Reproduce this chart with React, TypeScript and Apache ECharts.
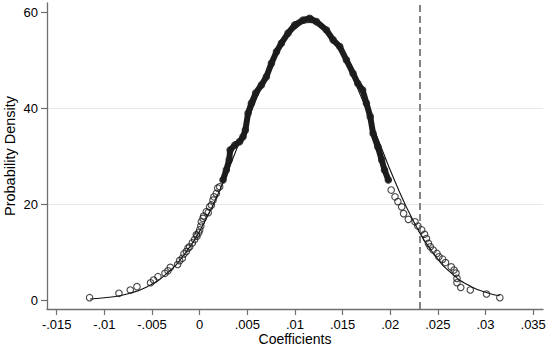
import React, { useEffect, useRef } from "react";
import * as echarts from "echarts";

// Kernel-density style points (coefficient, density)
const densityPoints: [number, number][] = [
  [-0.01155, 0.48], [-0.00847, 1.39], [-0.00728, 2.08], [-0.00658, 2.78],
  [-0.00515, 3.6], [-0.00483, 4.17], [-0.00438, 4.86], [-0.00364, 5.56],
  [-0.00333, 6.1], [-0.00308, 6.8], [-0.00231, 7.4], [-0.0021, 8.2],
  [-0.00182, 8.7], [-0.00165, 9.6], [-0.0014, 10.1], [-0.00122, 10.8],
  [-0.00105, 11.1], [-0.00077, 11.9], [-0.00053, 12.6], [-0.00035, 13.6],
  [-0.00028, 13.3], [-0.0001, 14.0], [0.0, 14.6], [0.00012, 15.4],
  [0.00018, 16.3], [0.00035, 17.0], [0.00042, 17.5], [0.0007, 18.4],
  [0.0009, 18.2], [0.00105, 19.4], [0.00123, 19.8], [0.0014, 20.8],
  [0.0015, 21.5], [0.00175, 22.2], [0.0019, 23.3], [0.0021, 23.6],
  [0.00245, 25.0], [0.0028, 27.1], [0.0031, 29.2], [0.0032, 31.25],
  [0.0037, 32.3], [0.0042, 33.0], [0.00455, 34.0], [0.0048, 35.4],
  [0.00508, 38.9], [0.00543, 41.0], [0.00588, 43.1], [0.00648, 44.8],
  [0.007, 46.5], [0.00753, 49.3], [0.00806, 51.7], [0.00858, 53.5],
  [0.00928, 55.6], [0.00998, 57.3], [0.01085, 58.3], [0.01155, 58.7],
  [0.01225, 58.0], [0.0133, 56.25], [0.014, 54.2], [0.0147, 52.8],
  [0.0154, 50.0], [0.0161, 47.2], [0.0166, 45.1], [0.0171, 43.75],
  [0.0175, 41.0], [0.0179, 38.2], [0.0182, 34.7], [0.0187, 31.9],
  [0.0191, 29.2], [0.0194, 27.1], [0.0198, 25.0], [0.0201, 22.9],
  [0.0205, 21.5], [0.0208, 20.5], [0.0212, 19.4], [0.0214, 18.0],
  [0.0219, 16.8], [0.0226, 16.3], [0.0229, 15.4], [0.0233, 14.6],
  [0.0236, 13.7], [0.0238, 12.8], [0.024, 11.8], [0.0242, 11.1],
  [0.0245, 10.4], [0.0249, 9.7], [0.0251, 9.0], [0.0255, 8.5],
  [0.0258, 7.8], [0.0264, 6.9], [0.0267, 6.25], [0.0269, 5.6],
  [0.027, 4.5], [0.027, 3.6], [0.0274, 2.6], [0.0284, 2.08],
  [0.0301, 1.25], [0.0315, 0.48],
];

// Fitted normal density curve
const normalCurve: [number, number][] = [
  [-0.0115, 0.22], [-0.0095, 0.56], [-0.0075, 1.31], [-0.0055, 2.78],
  [-0.0035, 5.44], [-0.0015, 9.8], [0.0005, 16.2], [0.0025, 24.7],
  [0.0045, 34.6], [0.0065, 44.4], [0.0085, 52.6], [0.0105, 57.2],
  [0.0115, 57.8], [0.0125, 57.2], [0.0145, 52.6], [0.0165, 44.4],
  [0.0185, 34.6], [0.0205, 24.7], [0.0225, 16.2], [0.0245, 9.8],
  [0.0265, 5.44], [0.0285, 2.78], [0.0305, 1.31], [0.0315, 0.87],
];

const referenceValue = 0.0231;

const xTicks = [-0.015, -0.01, -0.005, 0, 0.005, 0.01, 0.015, 0.02, 0.025, 0.03, 0.035];
const yTicks = [0, 20, 40, 60];

const xTitle = "Coefficients";
const yTitle = "Probability Density";

// Dense portion of the point cloud (overlapping markers form a solid band)
const densePoints = densityPoints.filter((p) => p[1] >= 24.5);

const FONT = "'Liberation Sans', Arial, Helvetica, sans-serif";

function fmtX(v: number): string {
  if (Math.abs(v) < 1e-9) return "0";
  const s = String(Number(v.toFixed(4)));
  return s.replace(/^(-?)0\./, "$1.");
}

export default function App() {
  const ref = useRef<HTMLDivElement>(null);
  useEffect(() => {
    if (!ref.current) return;
    const chart = echarts.init(ref.current, null, { renderer: "svg" });
    const axisColor = "#6f6f6f";
    chart.setOption({
      animation: false,
      backgroundColor: "#ffffff",
      grid: { left: 47, right: 7, top: 3, bottom: 40, containLabel: false, outerBoundsMode: "none" },
      xAxis: {
        type: "value",
        min: -0.01602,
        max: 0.03603,
        minInterval: 0.005,
        maxInterval: 0.005,
        name: xTitle,
        nameLocation: "middle",
        nameGap: 23,
        nameMoveOverlap: false,
        nameTextStyle: { fontFamily: FONT, fontSize: 14, lineHeight: 14, color: "#000" },
        axisLine: { show: true, onZero: false, lineStyle: { color: axisColor, width: 1.3 } },
        axisTick: {
          show: true,
          length: 6,
          customValues: xTicks,
          lineStyle: { color: axisColor, width: 1.2 },
        },
        axisLabel: {
          customValues: xTicks,
          formatter: fmtX,
          margin: 9,
          fontFamily: FONT,
          fontSize: 13,
          color: "#000",
        },
        splitLine: { show: false },
      },
      yAxis: {
        type: "value",
        min: -1.875,
        max: 61.875,
        minInterval: 20,
        maxInterval: 20,
        name: yTitle,
        nameLocation: "middle",
        nameGap: 29,
        nameMoveOverlap: false,
        nameTextStyle: { fontFamily: FONT, fontSize: 14.5, lineHeight: 16, color: "#000" },
        axisLine: { show: true, onZero: false, lineStyle: { color: axisColor, width: 1.3 } },
        axisTick: {
          show: true,
          length: 6,
          customValues: yTicks,
          lineStyle: { color: axisColor, width: 1.2 },
        },
        axisLabel: {
          customValues: yTicks,
          margin: 9,
          fontFamily: FONT,
          fontSize: 13,
          color: "#000",
        },
        splitLine: {
          show: true,
          showMinLine: false,
          showMaxLine: false,
          lineStyle: { color: "#e9e9e9", width: 1.2 },
        },
      },
      series: [
        {
          type: "line",
          data: normalCurve,
          smooth: true,
          showSymbol: false,
          symbol: "none",
          lineStyle: { color: "#111", width: 1.1 },
          silent: true,
          z: 2,
        },
        {
          type: "line",
          data: densePoints,
          smooth: false,
          showSymbol: false,
          symbol: "none",
          lineStyle: { color: "#1c1c1c", width: 6, join: "round", cap: "round" },
          silent: true,
          z: 3,
        },
        {
          type: "scatter",
          data: densityPoints,
          symbol: "circle",
          symbolSize: 6.5,
          itemStyle: { color: "rgba(255,255,255,0)", borderColor: "#1c1c1c", borderWidth: 1.1 },
          silent: true,
          z: 4,
          markLine: {
            silent: true,
            precision: 6,
            symbol: ["none", "none"],
            label: { show: false },
            lineStyle: { color: "#666", width: 1.6, type: [7, 4] },
            data: [{ xAxis: referenceValue }],
          },
        },
      ],
    });
    return () => chart.dispose();
  }, []);
  return (
    <div
      ref={ref}
      style={{ position: "fixed", left: 0, top: 0, width: 550, height: 349, background: "#fff" }}
    />
  );
}
